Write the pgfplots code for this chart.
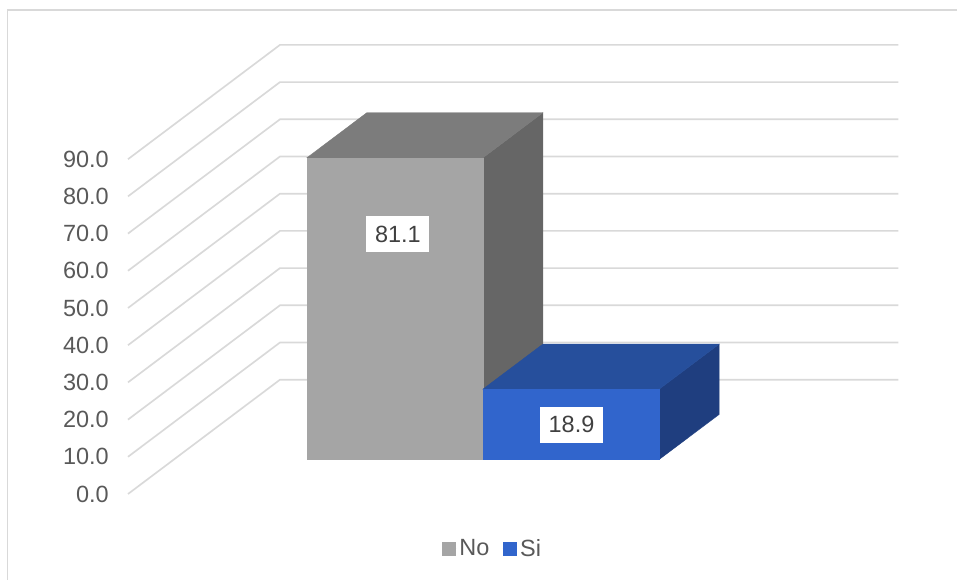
\documentclass[border=0pt]{standalone}
\usepackage{pgfplots}
\pgfplotsset{compat=1.18}
\usepackage{fontspec}
\setmainfont{Liberation Sans}
\definecolor{gridgray}{HTML}{D9D9D9}
\definecolor{ticktext}{HTML}{595959}
\definecolor{labeltext}{HTML}{404040}
\definecolor{noFront}{HTML}{A5A5A5}
\definecolor{noTop}{HTML}{7C7C7C}
\definecolor{noSide}{HTML}{666666}
\definecolor{siFront}{HTML}{3165CC}
\definecolor{siTop}{HTML}{264F9C}
\definecolor{siSide}{HTML}{1F3E7F}
\begin{document}
\begin{tikzpicture}[x=1pt,y=1pt]
  % page frame of the chart area
  \useasboundingbox (0,0) rectangle (717.75,-435);
  \draw[gridgray,line width=1.2pt] (717.75,-7.5) -- (5.5,-7.5) -- (5.5,-435);
  \begin{axis}[
    at={(96pt,-370.5pt)}, anchor=origin,
    x={(132.3pt,0pt)}, y={(114pt,85.725pt)}, z={(0pt,2.79pt)},
    xmin=0, xmax=3.505, ymin=0, ymax=1, zmin=0, zmax=90,
    hide axis, clip=false,
    legend columns=2,
    legend style={
      at={(axis cs:2.068,0,-14.65)}, anchor=center,
      draw=none, fill=none, font=\fontsize{17.6pt}{20pt}\selectfont,
      text=ticktext, inner sep=0pt, outer sep=0pt,
      /tikz/every even column/.append style={column sep=8pt},
    },
    legend image code/.code={
      \path (0pt,0pt) -- (10.75pt,0pt);
      \fill[#1] (0pt,-4.875pt) rectangle (9.75pt,4.875pt);
    },
  ]
    % walls: one line per value level, along the left wall then the back wall
    \pgfplotsinvokeforeach{0,10,...,90}{
      \addplot3[gridgray,line width=1.25pt,forget plot] coordinates {(0,0,#1) (0,1,#1) (3.505,1,#1)};
      \node[anchor=east,text=ticktext,font=\fontsize{17.6pt}{20pt}\selectfont,inner sep=0pt]
        at (axis cs:-0.108,0,#1) {#1.0};
    }
    % No
    \addplot3[fill=noSide,draw=noSide,line width=0.3pt,forget plot] coordinates
      {(1.752,0.302,0) (1.752,0.696,0) (1.752,0.696,81.1) (1.752,0.302,81.1)} --cycle;
    \addplot3[fill=noTop,draw=noTop,line width=0.3pt,forget plot] coordinates
      {(0.754,0.302,81.1) (1.752,0.302,81.1) (1.752,0.696,81.1) (0.754,0.696,81.1)} --cycle;
    \addplot3[fill=noFront,draw=noFront,line width=0.3pt] coordinates
      {(0.754,0.302,0) (1.752,0.302,0) (1.752,0.302,81.1) (0.754,0.302,81.1)} --cycle;
    \addlegendentry{No}
    % Si
    \addplot3[fill=siSide,draw=siSide,line width=0.3pt,forget plot] coordinates
      {(2.751,0.302,0) (2.751,0.696,0) (2.751,0.696,18.9) (2.751,0.302,18.9)} --cycle;
    \addplot3[fill=siTop,draw=siTop,line width=0.3pt,forget plot] coordinates
      {(1.752,0.302,18.9) (2.751,0.302,18.9) (2.751,0.696,18.9) (1.752,0.696,18.9)} --cycle;
    \addplot3[fill=siFront,draw=siFront,line width=0.3pt] coordinates
      {(1.752,0.302,0) (2.751,0.302,0) (2.751,0.302,18.9) (1.752,0.302,18.9)} --cycle;
    \addlegendentry{Si}
    % value labels
    \node[fill=white,text=labeltext,font=\fontsize{17.6pt}{20pt}\selectfont,
      minimum width=47.25pt,minimum height=27pt,inner sep=0pt]
      at (axis cs:1.270,0.302,60.6) {81.1};
    \node[fill=white,text=labeltext,font=\fontsize{17.6pt}{20pt}\selectfont,
      minimum width=47.25pt,minimum height=27pt,inner sep=0pt]
      at (axis cs:2.254,0.302,9.35) {18.9};
  \end{axis}
\end{tikzpicture}
\end{document}
